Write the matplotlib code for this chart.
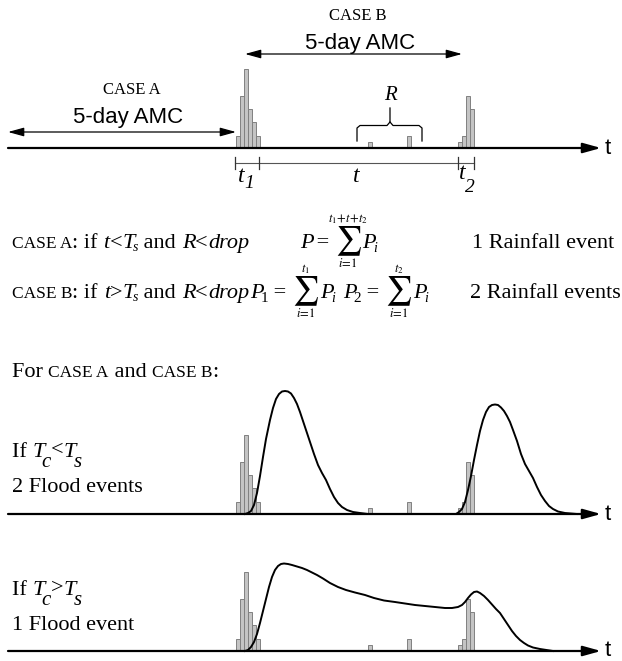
import matplotlib.pyplot as plt

plt.rcParams['mathtext.fontset'] = 'stix'

# rainfall pulses (time, depth) - same storm drawn in all three strips
rain_time = [236, 240, 244, 248, 252, 256, 368, 407, 458, 462, 466, 470]
rain_depth = [12, 52, 79, 39, 26, 12, 6, 12, 6, 12, 52, 39]

# hydrograph for Tc < Ts (two separate flood waves)
flood1_time = [245, 248, 251, 254, 257, 260, 263, 266, 270, 273, 276, 279, 282, 285,
               288, 291, 294, 297, 300, 303, 306, 310, 314, 318, 322, 326, 330, 334,
               338, 342, 347, 353, 360, 368,
               456, 459, 462, 465, 468, 471, 474, 477, 480, 483, 486, 489, 492, 495,
               498, 501, 504, 507, 510, 513, 517, 521, 525, 529, 533, 537, 541, 545,
               549, 553, 558, 565, 577]
flood1_flow = [0, 1, 3, 9, 21, 38, 57, 75, 94, 106, 115, 120, 122.5, 123,
               122.5, 120.5, 116, 110, 102, 93, 84, 72, 60, 49, 41, 34, 25, 17,
               11, 7, 4, 2, 1, 0,
               0, 2, 5, 12, 24, 38, 54, 69, 83, 94, 102, 107, 109, 109.5,
               109, 106.5, 103, 98, 92, 84, 73, 60, 50, 43, 36, 27, 19, 13,
               8, 5, 2.5, 1, 0]

# hydrograph for Tc > Ts (one long flood wave)
flood2_time = [245, 248, 251, 254, 257, 260, 263, 266, 269, 272, 275, 278, 281, 284,
               288, 292, 297, 302, 307, 312, 317, 323, 330, 338, 346, 355, 365, 374,
               384, 395, 405, 415, 425, 435, 445, 452, 458, 462, 465, 468, 471, 474,
               477, 480, 484, 488, 492, 496, 500, 504, 508, 512, 516, 520, 524, 528,
               533, 540, 553]
flood2_flow = [0, 1, 4, 9, 17, 28, 40, 52, 64, 74, 81, 85, 87, 87.5,
               87, 86, 84.5, 83, 81, 78.5, 76, 72.5, 68, 64, 61, 58.5, 56, 53,
               50.5, 49, 47.5, 46, 45, 44, 43, 43, 44, 46, 49, 53, 56.5, 59,
               59.5, 58, 55, 51, 46.5, 42, 38, 32, 26, 20, 15, 11, 8, 5.5,
               3.5, 2, 0]

SERIF = 'Liberation Serif'
SANS = 'Liberation Sans'
BAR_FACE = '#c4c4c4'
BAR_EDGE = '#808080'
M, SC = 16, 12.5

fig = plt.figure(figsize=(6.22, 6.61), dpi=100)
ax = fig.add_axes([0, 0, 1, 1])
ax.set_xlim(0, 622)
ax.set_ylim(661, 0)
ax.axis('off')
renderer = fig.canvas.get_renderer()


def text_width(s, **kw):
    t = ax.text(0, 0, '.' + s + '.', **kw)
    w1 = t.get_window_extent(renderer).width
    t.remove()
    t = ax.text(0, 0, '..', **kw)
    w2 = t.get_window_extent(renderer).width
    t.remove()
    return w1 - w2


def put_runs(x, y, runs):
    # runs: (text, size, style, dx, dy)
    for s, size, style, dx, dy in runs:
        kw = dict(fontsize=size, style=style, family=SERIF)
        ax.text(x + dx, y + dy, s, va='baseline', **kw)
        x += dx + text_width(s, **kw)
    return x


def sum_expr(x, y, lhs_sub, upper):
    # P_k = sum_{i=1}^{upper} P_i, built piece by piece
    runs = [('P', M, 'italic', 0, 0)]
    if lhs_sub:
        runs.append((lhs_sub, 11, 'normal', 0, 4))
    runs.append((' = ', M, 'normal', 0, 0))
    x = put_runs(x, y, runs)
    sig = ax.text(x, y, r'$\sum$', fontsize=21, va='baseline')
    bb = sig.get_window_extent(renderer)
    xc = (bb.x0 + bb.x1) / 2
    ax.text(xc, y - 26, upper, fontsize=9, ha='center', va='baseline')
    ax.text(xc, y + 19, r'$i\!=\!1$', fontsize=9, ha='center', va='baseline')
    return put_runs(bb.x1 + 1, y, [('P', M, 'italic', 0, 0), ('i', 10, 'italic', 0, 4)])


def arrow(x0, x1, y, style, lw, ms):
    ax.annotate('', xy=(x1, y), xytext=(x0, y),
                arrowprops=dict(arrowstyle=style, lw=lw, color='k',
                                shrinkA=0, shrinkB=0, mutation_scale=ms))


def time_strip(base, flow_t=None, flow_q=None):
    arrow(8, 601, base, '-|>,head_length=0.9,head_width=0.25', 1.6, 12)
    ax.text(605, base, 't', family=SANS, fontsize=16, va='center', ha='left')
    ax.bar(rain_time, [-d for d in rain_depth], width=4, bottom=base, align='edge',
           color=BAR_FACE, edgecolor=BAR_EDGE, linewidth=0.7, zorder=2)
    if flow_t is not None:
        ax.plot(flow_t, [base - q for q in flow_q], color='k', lw=1.4, zorder=3)


# ---- top strip: rainfall series and AMC windows
time_strip(148)
arrow(8, 236, 132, '<|-|>,head_length=0.8,head_width=0.22', 0.9, 12)
arrow(245, 462, 54, '<|-|>,head_length=0.8,head_width=0.22', 0.9, 12)
ax.text(132, 90, 'CASE A', family=SERIF, fontsize=12, ha='center', va='center')
ax.text(128, 118, '5-day AMC', family=SANS, fontsize=16, ha='center', va='center')
ax.text(358, 16, 'CASE B', family=SERIF, fontsize=12, ha='center', va='center')
ax.text(360, 43, '5-day AMC', family=SANS, fontsize=16, ha='center', va='center')

# curly brace over the small pulses
ax.plot([357, 357, 360, 387, 390, 390], [141, 128, 125.5, 125.5, 122, 108], color='k', lw=0.9)
ax.plot([390, 393, 419, 422, 422], [122, 125.5, 125.5, 128, 141], color='k', lw=0.9)
ax.text(390, 100, 'R', family=SERIF, style='italic', fontsize=15, ha='center', va='baseline')

# duration bracket t1 / t / t2
ax.plot([235, 474], [163, 163], color='#555555', lw=0.8)
for xt in [235, 259, 458, 474]:
    ax.plot([xt, xt], [157, 169], color='#333333', lw=0.9)
put_runs(238, 182, [('t', 17, 'italic', 0, 0), ('1', 14, 'italic', 0, 6)])
ax.text(353, 182, 't', family=SERIF, style='italic', fontsize=17, va='baseline')
put_runs(459, 179, [('t', 17, 'italic', 0, 0), ('2', 14, 'italic', -1, 13)])

# ---- rules for the two cases
put_runs(12, 248, [('CASE A', SC, 'normal', 0, 0), (': if ', M, 'normal', 0, 0),
                   ('t', M, 'italic', 0, 0), ('<', M, 'normal', 0, 0),
                   ('T', M, 'italic', 0, 0), ('s', 10, 'italic', 0, 3),
                   (' and ', M, 'normal', 0, 0), ('R', M, 'italic', 0, 0),
                   ('<', M, 'normal', 0, 0), ('drop', M, 'italic', 0, 0)])
sum_expr(300, 248, '', r'$t_1\!+\!t\!+\!t_2$')
ax.text(472, 248, '1 Rainfall event', family=SERIF, fontsize=M, va='baseline')

end_b = put_runs(12, 298, [('CASE B', SC, 'normal', 0, 0), (': if ', M, 'normal', 0, 0),
                           ('t', M, 'italic', 0, 0), ('>', M, 'normal', 0, 0),
                           ('T', M, 'italic', 0, 0), ('s', 10, 'italic', 0, 3),
                           (' and ', M, 'normal', 0, 0), ('R', M, 'italic', 0, 0),
                           ('<', M, 'normal', 0, 0), ('drop', M, 'italic', 0, 0)])
end_p1 = sum_expr(end_b + 1, 298, '1', r'$t_1$')
sum_expr(end_p1 + 8, 298, '2', r'$t_2$')
ax.text(470, 298, '2 Rainfall events', family=SERIF, fontsize=M, va='baseline')

put_runs(12, 377, [('For ', M, 'normal', 0, 0), ('CASE A', SC, 'normal', 0, 0),
                   (' and ', M, 'normal', 0, 0), ('CASE B', SC, 'normal', 0, 0),
                   (':', M, 'normal', 0, 0)])

# ---- Tc < Ts : two floods
time_strip(514, flood1_time, flood1_flow)
put_runs(12, 457, [('If ', M, 'normal', 0, 0), ('T', M, 'italic', 0, 0),
                   ('c', 15, 'italic', -2, 10), ('<', M, 'normal', 0, -2),
                   ('T', M, 'italic', 0, 0), ('s', 15, 'italic', 0, 10)])
ax.text(12, 492, '2 Flood events', family=SERIF, fontsize=M, va='baseline')

# ---- Tc > Ts : one flood
time_strip(651, flood2_time, flood2_flow)
put_runs(12, 595, [('If ', M, 'normal', 0, 0), ('T', M, 'italic', 0, 0),
                   ('c', 15, 'italic', -2, 10), ('>', M, 'normal', 0, -2),
                   ('T', M, 'italic', 0, 0), ('s', 15, 'italic', 0, 10)])
ax.text(12, 630, '1 Flood event', family=SERIF, fontsize=M, va='baseline')

fig.savefig('out.png', dpi=100)
